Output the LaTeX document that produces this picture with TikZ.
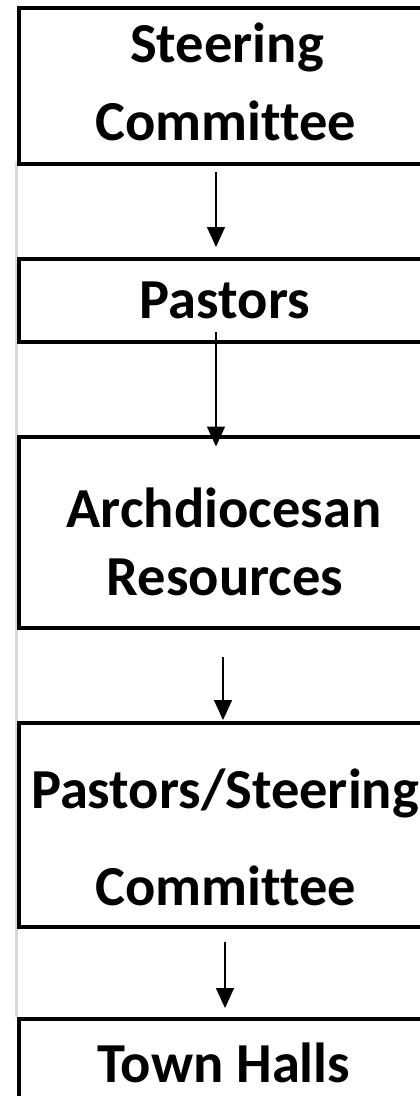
\documentclass[tikz,border=0pt]{standalone}
\usepackage{fontspec}
\setmainfont[Ligatures=NoCommon]{Carlito}
\usetikzlibrary{arrows.meta}
\tikzset{
  box/.style={draw=black, line width=4pt, rectangle, anchor=north west, minimum width=430pt, inner sep=0pt},
  lbl/.style={anchor=base, inner sep=0pt, font=\fontsize{56.5}{60}\selectfont\bfseries},
  arr/.style={line width=1.5pt, -{Triangle[width=18pt,length=20pt]}},
  guide/.style={draw=black!15, line width=3pt}
}
\begin{document}
\begin{tikzpicture}[x=1pt,y=-1pt]
\useasboundingbox (0,0) rectangle (420,1096);
\begin{scope}
\clip (0,0) rectangle (420,1096);
\draw[guide] (16.5,162) -- (16.5,1017);
\node[box, minimum height=156.5pt] (b1) at (16.5,5.5) {};
\node[box, minimum height=82.5pt] (b2) at (16.5,257) {};
\node[box, minimum height=191.5pt] (b3) at (16.5,434.5) {};
\node[box, minimum height=203.5pt] (b4) at (16.5,721) {};
\node[box, minimum height=100pt] (b5) at (16.5,1017) {};
\node[lbl] (t1a) at (227,62) {Steering};
\node[lbl] (t1b) at (226,140) {Committee};
\node[lbl] (t2) at (225,318) {Pastors};
\node[lbl] (t3a) at (224,527) {Archdiocesan};
\node[lbl] (t3b) at (225,595) {Resources};
\node[lbl] (t4a) at (225,808) {Pastors/Steering};
\node[lbl] (t4b) at (226,905) {Committee};
\node[lbl] (t5) at (224,1082) {Town Halls};
\coordinate (c1) at (216,0);
\coordinate (c3) at (223,0);
\coordinate (c4) at (225,0);
\draw[arr, shorten <=6pt, shorten >=10pt] (b1.south -| c1) -- (b2.north -| c1);
\draw[arr, shorten <=-12pt, shorten >=-12pt] (b2.south -| c1) -- (b3.north -| c1);
\draw[arr, shorten <=27pt, shorten >=1pt] (b3.south -| c3) -- (b4.north -| c3);
\draw[arr, shorten <=13.5pt, shorten >=9pt] (b4.south -| c4) -- (b5.north -| c4);
\end{scope}
\end{tikzpicture}
\end{document}
